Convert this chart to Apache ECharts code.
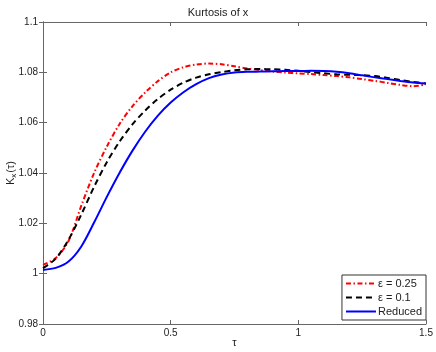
<!DOCTYPE html>
<html>
<head>
<meta charset="utf-8">
<script src="https://cdn.jsdelivr.net/npm/echarts@6/dist/echarts.min.js"></script>
<style>
  html, body { margin: 0; padding: 0; background: #fff; }
  #chart { width: 436px; height: 352px; }
</style>
</head>
<body>
<div id="chart"></div>
<script>
// tau grid and the three kurtosis curves
var tau = [0, 0.05, 0.1, 0.15, 0.2, 0.25, 0.3, 0.35, 0.4, 0.45, 0.5, 0.55, 0.6, 0.65, 0.7, 0.75,
  0.8, 0.85, 0.9, 0.95, 1.0, 1.05, 1.1, 1.15, 1.2, 1.25, 1.3, 1.35, 1.4, 1.45, 1.5];
var kurtEps025 = [1.0035, 1.0062, 1.013, 1.027, 1.040, 1.0505, 1.0595, 1.0665, 1.072, 1.0765, 1.080,
  1.082, 1.0831, 1.0835, 1.0832, 1.0824, 1.0815, 1.0809, 1.0803, 1.0799, 1.0796, 1.0793, 1.0789,
  1.0785, 1.078, 1.0773, 1.0766, 1.0758, 1.075, 1.0745, 1.0752];
var kurtEps01 = [1.0022, 1.006, 1.0135, 1.0235, 1.0345, 1.0443, 1.0525, 1.0593, 1.0648, 1.0694, 1.0731,
  1.0759, 1.0779, 1.0792, 1.0801, 1.0808, 1.0812, 1.0813, 1.0812, 1.081, 1.0806, 1.0801, 1.0796,
  1.0792, 1.079, 1.0789, 1.0785, 1.0778, 1.0769, 1.0762, 1.0756];
var kurtReduced = [1.0015, 1.0023, 1.0048, 1.0108, 1.0203, 1.0305, 1.0401, 1.0488, 1.0564, 1.0628, 1.068,
  1.0721, 1.0753, 1.0777, 1.0791, 1.0799, 1.0802, 1.0803, 1.0804, 1.0805, 1.0805, 1.0806, 1.0805,
  1.0802, 1.0796, 1.0788, 1.078, 1.0773, 1.0766, 1.076, 1.0756];
var seriesNames = ['\u03b5 = 0.25', '\u03b5 = 0.1', 'Reduced'];

function pairs(vals) {
  return tau.map(function (t, i) { return [t, vals[i]]; });
}

var chart = echarts.init(document.getElementById('chart'));
var font = 'Liberation Sans, Arial, sans-serif';
var axisColor = '#666';

var option = {
  animation: false,
  backgroundColor: '#fff',
  textStyle: { fontFamily: font },
  title: {
    text: 'Kurtosis of x',
    left: 'center',
    top: 2,
    textStyle: { fontSize: 11, fontWeight: 'normal', color: '#222', fontFamily: font }
  },
  grid: { left: 43, right: 10, top: 22, bottom: 28, containLabel: false, outerBoundsMode: 'none' },
  legend: {
    data: seriesNames,
    orient: 'vertical',
    right: 10,
    bottom: 32,
    itemWidth: 30,
    itemHeight: 10,
    itemGap: 3,
    padding: [3, 4, 3, 3],
    backgroundColor: '#fff',
    borderColor: '#333',
    borderWidth: 1,
    borderRadius: 0,
    itemStyle: { opacity: 0 },
    textStyle: { fontSize: 11, color: '#222', fontFamily: font, padding: [0, 0, 0, -3] }
  },
  xAxis: [{
    type: 'value',
    min: 0,
    max: 1.5,
    interval: 0.5,
    name: '\u03c4',
    nameLocation: 'middle',
    nameGap: 13,
    nameMoveOverlap: false,
    nameTextStyle: { fontSize: 11, color: '#222' },
    axisLine: { lineStyle: { color: axisColor } },
    axisTick: { inside: true, length: 4, lineStyle: { color: axisColor } },
    axisLabel: { fontSize: 10, color: '#222', margin: 4 },
    splitLine: { show: false }
  }, {
    type: 'value',
    position: 'top',
    min: 0,
    max: 1.5,
    interval: 0.5,
    axisLine: { show: true, lineStyle: { color: axisColor } },
    axisTick: { inside: true, length: 4, lineStyle: { color: axisColor } },
    axisLabel: { show: false },
    splitLine: { show: false }
  }],
  yAxis: [{
    type: 'value',
    min: 0.98,
    max: 1.1,
    interval: 0.02,
    name: '{k|K}{s|x}{k|(\u03c4)}',
    nameLocation: 'middle',
    nameRotate: 90,
    nameGap: 25,
    nameMoveOverlap: false,
    nameTextStyle: {
      color: '#222',
      rich: {
        k: { fontSize: 11, color: '#222', fontFamily: font },
        s: { fontSize: 8, color: '#222', fontFamily: font, verticalAlign: 'bottom', padding: [6, 1, 0, 0] }
      }
    },
    axisLine: { show: true, lineStyle: { color: axisColor } },
    axisTick: { show: true, inside: true, length: 4, lineStyle: { color: axisColor } },
    axisLabel: { fontSize: 10, color: '#222', margin: 5 },
    splitLine: { show: false }
  }, {
    type: 'value',
    position: 'right',
    min: 0.98,
    max: 1.1,
    interval: 0.02,
    axisLine: { show: true, lineStyle: { color: axisColor } },
    axisTick: { show: true, inside: true, length: 4, lineStyle: { color: axisColor } },
    axisLabel: { show: false },
    splitLine: { show: false }
  }],
  series: [{
    name: seriesNames[0],
    type: 'line',
    data: pairs(kurtEps025),
    smooth: 0.3,
    showSymbol: false,
    symbol: 'none',
    color: '#ff0000',
    lineStyle: { color: '#ff0000', width: 2, type: [5, 2.5, 1.5, 2.5] }
  }, {
    name: seriesNames[1],
    type: 'line',
    data: pairs(kurtEps01),
    smooth: 0.3,
    showSymbol: false,
    symbol: 'none',
    color: '#000000',
    lineStyle: { color: '#000000', width: 2, type: [6, 4] }
  }, {
    name: seriesNames[2],
    type: 'line',
    data: pairs(kurtReduced),
    smooth: 0.3,
    showSymbol: false,
    symbol: 'none',
    color: '#0000ff',
    lineStyle: { color: '#0000ff', width: 2 }
  }]
};

chart.setOption(option);
</script>
</body>
</html>
